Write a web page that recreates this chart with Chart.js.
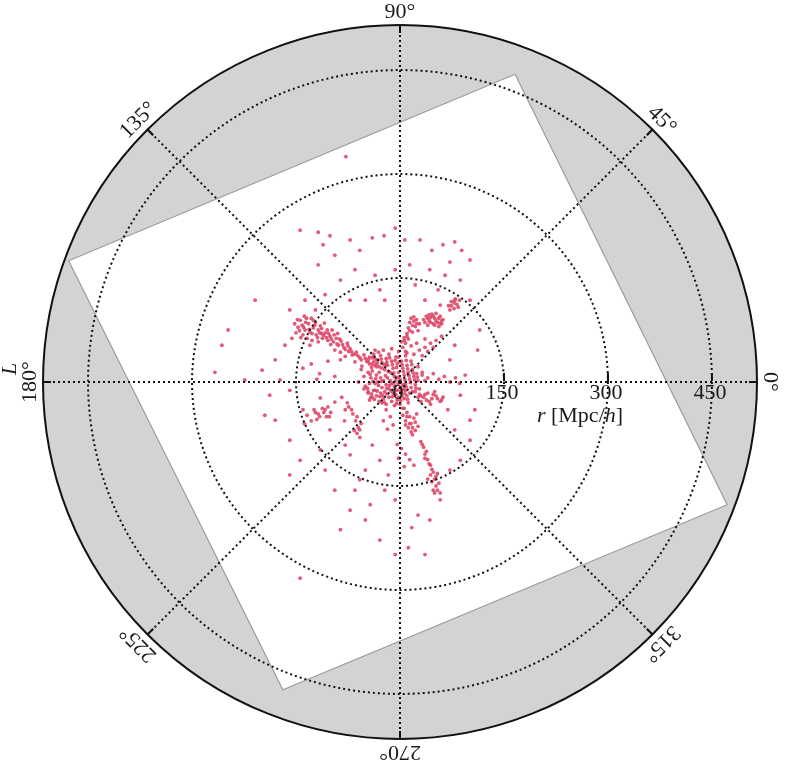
<!DOCTYPE html>
<html>
<head>
<meta charset="utf-8">
<script src="https://cdn.jsdelivr.net/npm/chart.js@4.4.0/dist/chart.umd.min.js"></script>
<style>
  html, body { margin: 0; padding: 0; background: #fff; }
  canvas { display: block; }
</style>
</head>
<body>
<canvas id="mapa" width="790" height="765"></canvas>
<script>
// radio maximo del mapa en Mpc/h
var rMax = 515;
var gridRadii = [150, 300, 450];
var radialTicks = [0, 150, 300, 450];
var angleTicks = [0, 45, 90, 135, 180, 225, 270, 315];
var angleLabels = ['0°', '45°', '90°', '135°', '180°', '225°', '270°', '315°'];

// esquinas de la caja de la simulacion (x, y en Mpc/h)
var footprint = [[166, 444], [472, -177], [-169, -444], [-478, 175], [166, 444]];

// galaxias: nucleo central
var galCentro = [
    [-48,30],[-44,36],[-40,26],[-38,40],[-34,32],[-30,22],[-28,38],[-26,28],[-22,18],[-20,34],[-18,24],[-16,40],
    [-14,14],[-12,30],[-10,20],[-8,8],[-6,36],[-4,26],[-2,14],[0,4],[2,30],[4,20],[6,10],[8,-2],[10,24],[12,14],
    [14,4],[16,-8],[18,18],[20,8],[22,-4],[24,12],[26,2],[28,-10],[-46,14],[-42,6],[-40,16],[-36,-2],[-34,10],
    [-32,0],[-28,6],[-26,-8],[-24,2],[-22,-14],[-20,-4],[-18,6],[-16,-10],[-12,-2],[-10,-16],[-8,-6],[-6,2],
    [-4,-12],[-2,-22],[0,-8],[2,-16],[4,-4],[6,-24],[8,-12],[10,-20],[12,-30],[14,-16],[-50,-6],[-46,-14],
    [-42,-22],[-38,-12],[-34,-20],[-30,-28],[-28,-16],[-24,-24],[-20,-32],[-16,-22],[-12,-28],[-8,-34],[-4,-26],
    [0,-32],[4,-38],[-36,46],[-24,46],[-12,48],[-2,44],[8,38],[16,30],[26,22],[32,14],[36,2],[30,-20],
    [-52,8],[-56,18],[-60,0],[-44,-2],[-30,14],[-14,2],[-6,-18],[6,-6],[18,-14],[-2,36],[10,42],
    [-45,33],[-41,21],[-37,35],[-33,27],[-31,43],[-27,33],[-23,25],[-19,29],[-17,15],[-15,35],[-11,25],[-9,13],
    [-7,31],[-5,21],[-3,7],[-1,29],[3,25],[5,15],[7,3],[9,31],[11,19],[13,9],[15,-1],[17,25],[19,13],[21,3],
    [23,-9],[25,7],[-43,11],[-39,1],[-35,5],[-31,-5],[-27,1],[-25,-19],[-21,9],[-19,-9],[-15,-5],[-13,-13],
    [-9,-1],[-7,-11],[-3,-3],[1,-13],[3,-21],[5,-11],[7,-17],[9,-7],[11,-25],[-47,-9],[-41,-17],[-37,-25],
    [-33,-13],[-29,-21],[-23,-29],[-19,-17],[-11,-21],[-5,-31],[1,-27]
];

// filamento hacia el noroeste
var galNoroeste = [
    [-147,79],[-141,82],[-137,75],[-132,84],[-130,72],[-125,78],[-121,68],[-118,75],[-115,81],[-112,63],[-108,71],
    [-104,60],[-101,66],[-96,58],[-92,63],[-89,53],[-85,59],[-81,50],[-76,56],[-72,48],[-140,68],[-134,63],[-127,60],
    [-118,58],[-144,89],[-135,92],[-122,86],[-109,85],[-105,75],[-98,75],[-130,53],[-150,71],[-156,63],[-94,46],
    [-86,43],[-69,39],[-63,43],[-58,35],[-52,39],[-46,29],[-40,35],[-36,24],[-32,32],[-26,20],[-20,26],[-79,37],
    [-65,29],[-55,23],[-86,32],[-152,84],[-128,92],[-113,70],[-100,54],[-90,70],[-74,44],
    [-145,74],[-139,79],[-136,86],[-131,76],[-127,70],[-123,82],[-119,64],[-116,71],[-113,77],[-110,67],[-106,64],
    [-103,70],[-99,62],[-95,68],[-91,55],[-87,62],[-83,54],[-79,47],[-75,52],[-70,44],[-66,40],[-61,38],[-56,32],
    [-50,34],[-44,26],[-38,29],[-34,22],[-143,64],[-148,90],[-138,95],[-125,89]
];

// grumos al norte y noreste del centro
var galNoreste = [
    [4,50],[8,56],[6,64],[10,70],[12,78],[14,86],[16,92],[20,88],[22,80],[26,74],[18,72],[24,90],[28,84],[2,58],
    [12,62],[16,52],[8,44],[34,90],[38,95],[42,88],[46,98],[50,92],[54,86],[58,95],[62,90],[40,82],[48,84],[56,80],
    [44,93],[52,99],[60,84],[70,110],[74,116],[78,106],[82,112],[86,118],[80,120],[72,104],[20,40],[28,46],[36,50],
    [44,56],[52,60],[60,66],[32,38],[40,44],[48,50],[24,56],[36,62],
    [36,86],[40,92],[44,86],[48,95],[52,88],[56,92],[60,88],[42,97],[50,82],[58,84],[6,60],[10,66],[14,74],[18,82],
    [20,94],[24,84],[74,110],[78,114],[84,108]
];

// grumos al este y al sur
var galSur = [
    [22,-14],[28,-18],[34,-22],[40,-16],[46,-24],[52,-20],[58,-28],[62,-22],[30,-28],[44,-32],[50,-14],[38,-26],
    [32,10],[40,6],[48,12],[56,4],[64,8],[72,0],[80,6],[86,-2],[6,-38],[10,-44],[14,-50],[8,-56],[16,-60],[20,-52],
    [12,-66],[22,-70],[18,-76],[26,-64],[24,-46],[4,-48],[30,-86],[34,-94],[38,-100],[36,-110],[42,-118],[46,-126],
    [44,-134],[50,-140],[52,-150],[48,-156],[56,-146],[54,-132],[40,-140],[58,-160],[-4,-90],[2,-96],[8,-104],
    [14,-112],[20,-120],[6,-122],[-2,-110],[-26,-30],[-20,-40],[-14,-50],[-24,-56],[-10,-62],[-18,-68],
    [32,-90],[36,-104],[40,-112],[44,-120],[48,-130],[46,-144],[52,-136],[54,-156],[50,-160],[10,-50],[14,-60],
    [18,-66],[22,-58],[8,-62],[16,-72],[26,-22],[36,-18],[42,-28],[48,-18],[54,-24],[60,-26]
];

// grumos al oeste y suroeste
var galOeste = [
    [-124,-40],[-118,-46],[-112,-38],[-106,-50],[-100,-44],[-120,-54],[-104,-36],[-84,-22],[-76,-30],[-70,-40],
    [-62,-50],[-56,-60],[-66,-70],[-58,-80],[-80,-56],[-52,-10],[-46,-16],[-40,-22],[-36,-12],[-44,-26],[-140,20],
    [-128,26],[-116,12],[-104,30],[-94,8],[-120,4],[-140,-40],[-134,-48],[-128,-56],[-138,-60],[-115,-23],[-94,-29],
    [-79,-40],[-58,-69],[-40,-91],[-72,-105],[-29,-113],[-50,-127],[-17,-134],
    [-122,-44],[-116,-50],[-110,-44],[-108,-40],[-102,-50],[-74,-36],[-68,-46],[-64,-56],[-60,-66],[-62,-74]
];

// galaxias dispersas
var galDispersas = [
    [-78,325],[-144,219],[-118,216],[-111,198],[-101,211],[-72,205],[-58,190],[-40,208],[-23,211],[-7,222],[7,205],
    [29,205],[46,190],[62,198],[79,202],[89,190],[101,176],[-209,118],[-248,75],[-257,53],[-267,14],[-199,17],
    [-188,-19],[-195,-48],[-180,-55],[-159,-84],[-144,-113],[-159,-134],[-108,-127],[-94,-156],[-72,-185],[-50,-199],
    [-29,-228],[-7,-249],[12,-239],[17,-210],[43,-199],[-58,-141],[-22,-156],[101,-55],[108,-40],[87,-19],[94,10],
    [72,32],[115,75],[101,118],[87,147],[65,154],[43,162],[22,140],[-7,162],[-29,133],[-50,118],[-86,147],[-108,126],
    [-137,118],[-159,104],[-144,-283],[-118,169],[-94,183],[-65,162],[-36,154],[14,169],[72,173],[55,133],[79,118],
    [58,111],[-22,118],[-72,118],[-122,104],[36,118],[-166,53],[-180,32],[-173,3],[-159,-12],[-224,3],[112,46],
    [79,53],[101,-84],[79,-69],[69,-40],[87,-113],[72,-127],[-115,-98],[-79,-91],[-101,-69],[-43,-177],[-65,-156],
    [-86,-213],[-7,-170],[26,-192],[58,-170],[36,-249]
];

var galaxias = [].concat(galCentro, galNoroeste, galNoreste, galSur, galOeste, galDispersas);

var marcoPolar = {
    id: 'marcoPolar',
    beforeDatasetsDraw: function (chart) {
        var ctx = chart.ctx, xs = chart.scales.x, ys = chart.scales.y;
        var cx = xs.getPixelForValue(0), cy = ys.getPixelForValue(0);
        var R = xs.getPixelForValue(rMax) - cx;
        ctx.save();
        ctx.beginPath();
        ctx.arc(cx, cy, R, 0, 2 * Math.PI);
        ctx.fillStyle = '#d3d3d3';
        ctx.fill();
        ctx.restore();
    },
    afterDatasetsDraw: function (chart) {
        var ctx = chart.ctx, xs = chart.scales.x, ys = chart.scales.y;
        var cx = xs.getPixelForValue(0), cy = ys.getPixelForValue(0);
        var R = xs.getPixelForValue(rMax) - cx;
        ctx.save();

        // circulos y radios punteados
        ctx.strokeStyle = '#111';
        ctx.lineWidth = 2;
        ctx.setLineDash([2, 3]);
        gridRadii.forEach(function (r) {
            var rp = xs.getPixelForValue(r) - cx;
            ctx.beginPath();
            ctx.arc(cx, cy, rp, 0, 2 * Math.PI);
            ctx.stroke();
        });
        angleTicks.forEach(function (a) {
            var t = a * Math.PI / 180;
            ctx.beginPath();
            ctx.moveTo(cx, cy);
            ctx.lineTo(cx + R * Math.cos(t), cy - R * Math.sin(t));
            ctx.stroke();
        });

        // marcas solidas
        ctx.setLineDash([]);
        angleTicks.forEach(function (a) {
            var t = a * Math.PI / 180;
            ctx.beginPath();
            ctx.moveTo(cx + (R - 8) * Math.cos(t), cy - (R - 8) * Math.sin(t));
            ctx.lineTo(cx + R * Math.cos(t), cy - R * Math.sin(t));
            ctx.stroke();
        });
        gridRadii.forEach(function (r) {
            var px = xs.getPixelForValue(r);
            ctx.beginPath();
            ctx.moveTo(px, cy - 9);
            ctx.lineTo(px, cy - 1);
            ctx.stroke();
        });

        // borde exterior
        ctx.beginPath();
        ctx.arc(cx, cy, R, 0, 2 * Math.PI);
        ctx.lineWidth = 2;
        ctx.stroke();

        // etiquetas de angulo
        ctx.fillStyle = '#1a1a1a';
        ctx.font = '22px "Liberation Serif", serif';
        ctx.textAlign = 'center';
        ctx.textBaseline = 'middle';
        angleTicks.forEach(function (a, i) {
            var t = a * Math.PI / 180;
            ctx.save();
            ctx.translate(cx + (R + 13) * Math.cos(t), cy - (R + 13) * Math.sin(t));
            ctx.rotate((90 - a) * Math.PI / 180);
            ctx.fillText(angleLabels[i], 0, 0);
            ctx.restore();
        });

        // etiquetas radiales
        radialTicks.forEach(function (r) {
            ctx.fillText(String(r), xs.getPixelForValue(r) - 2, cy + 11);
        });

        // titulo del eje radial: r [Mpc/h]
        var partes = [
            ['italic 22px "Liberation Serif", serif', 'r'],
            ['22px "Liberation Serif", serif', ' [Mpc/'],
            ['italic 22px "Liberation Serif", serif', 'h'],
            ['22px "Liberation Serif", serif', ']']
        ];
        var ancho = 0;
        partes.forEach(function (p) { ctx.font = p[0]; ancho += ctx.measureText(p[1]).width; });
        var x0 = cx + 180 - ancho / 2;
        ctx.textAlign = 'left';
        partes.forEach(function (p) {
            ctx.font = p[0];
            ctx.fillText(p[1], x0, cy + 34);
            x0 += ctx.measureText(p[1]).width;
        });

        // L
        ctx.save();
        ctx.translate(cx - 390, cy - 13);
        ctx.rotate(-Math.PI / 2);
        ctx.textAlign = 'center';
        ctx.font = 'italic 22px "Liberation Serif", serif';
        ctx.fillText('L', 0, 0);
        ctx.restore();

        ctx.restore();
    }
};

var mapa = new Chart(document.getElementById('mapa').getContext('2d'), {
    type: 'scatter',
    data: {
        datasets: [
            {
                label: 'galaxias',
                data: galaxias.map(function (g) { return { x: g[0], y: g[1] }; }),
                backgroundColor: 'rgba(222, 72, 104, 0.9)',
                borderWidth: 0,
                pointRadius: 1.9,
                order: 1
            },
            {
                type: 'line',
                label: 'caja',
                data: footprint.map(function (c) { return { x: c[0], y: c[1] }; }),
                borderColor: '#9c9c9c',
                borderWidth: 1.2,
                backgroundColor: '#ffffff',
                fill: 'shape',
                pointRadius: 0,
                tension: 0,
                order: 2
            }
        ]
    },
    options: {
        responsive: false,
        animation: false,
        layout: { padding: { left: 43, right: 33, top: 25, bottom: 26 } },
        plugins: { legend: { display: false }, tooltip: { enabled: false } },
        scales: {
            x: { type: 'linear', min: -rMax, max: rMax, display: false },
            y: { type: 'linear', min: -rMax, max: rMax, display: false }
        }
    },
    plugins: [marcoPolar]
});
</script>
</body>
</html>
